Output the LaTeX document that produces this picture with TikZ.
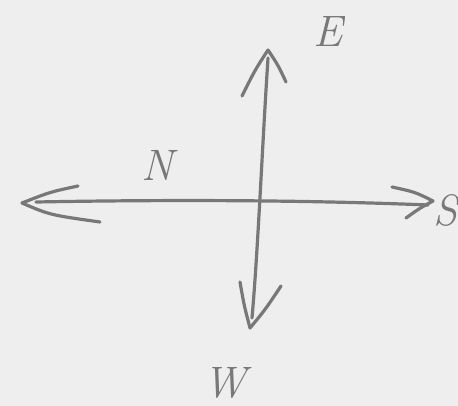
\documentclass[tikz,border=0pt]{standalone}
\usepackage{tikz}
\definecolor{paper}{RGB}{238,238,238}
\definecolor{pencil}{RGB}{120,120,120}
\tikzset{
  stroke/.style={draw=pencil, line width=3.2pt, line cap=round, line join=round},
  lbl/.style={text=pencil, font=\fontsize{44}{46}\selectfont\itshape, inner sep=0pt}
}
\begin{document}
\begin{tikzpicture}[x=1pt,y=-1pt]
  \fill[paper] (0,0) rectangle (458,406);
  \useasboundingbox (0,0) rectangle (458,406);
  % horizontal axis
  \coordinate (wtip) at (22,203);
  \coordinate (wa) at (78,186);
  \coordinate (wb) at (100,222);
  \coordinate (hstart) at (36,202);
  \coordinate (etip) at (433,201);
  \coordinate (ea) at (392,187);
  \coordinate (eb) at (406,218);
  \coordinate (hend) at (428,205);
  % vertical axis
  \coordinate (ttip) at (268,50);
  \coordinate (ta) at (242,96);
  \coordinate (tb) at (286,82);
  \coordinate (vstart) at (268,58);
  \coordinate (btip) at (250,328);
  \coordinate (ba) at (240,282);
  \coordinate (bb) at (281,286);
  \coordinate (vend) at (252,318);
  \draw[stroke] (hstart) .. controls (200,199) and (330,201) .. (hend);
  \draw[stroke] (wa) .. controls (50,192) .. (wtip) .. controls (50,215) .. (wb);
  \draw[stroke] (ea) .. controls (415,192) .. (etip) .. controls (420,208) .. (eb);
  \draw[stroke] (vstart) .. controls (262,150) and (258,250) .. (vend);
  \draw[stroke] (ta) .. controls (255,70) .. (ttip) .. controls (278,65) .. (tb);
  \draw[stroke] (ba) .. controls (244,305) .. (btip) .. controls (265,310) .. (bb);
  % labels
  \node[lbl] (E) at (328,32) {E};
  \node[lbl] (N) at (157,165) {N};
  \node[lbl] (S) at (446,210) {S};
  \node[lbl] (W) at (225,383) {W};
\end{tikzpicture}
\end{document}
